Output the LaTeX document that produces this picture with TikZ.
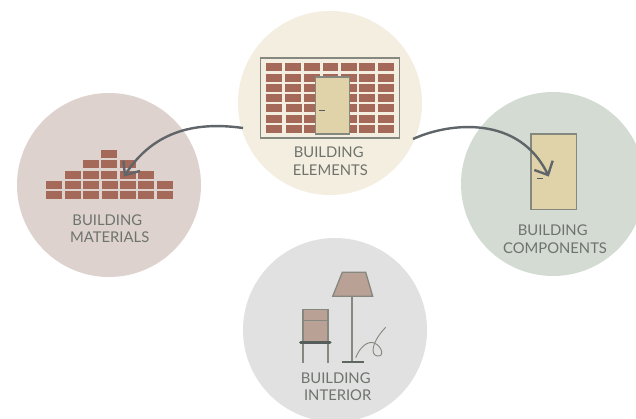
\documentclass[tikz,border=0pt]{standalone}
\usepackage{fontspec}
\setmainfont{Lato}
\usetikzlibrary{arrows.meta}
\definecolor{ctop}{HTML}{F3EEE0}
\definecolor{cleft}{HTML}{DDD2CE}
\definecolor{cright}{HTML}{D3DBD3}
\definecolor{cbot}{HTML}{E1E1E1}
\definecolor{brick}{HTML}{A5695A}
\definecolor{doorc}{HTML}{E0D3A9}
\definecolor{edgec}{HTML}{85887F}
\definecolor{txt}{HTML}{6F736D}
\definecolor{arrowc}{HTML}{5F6568}
\definecolor{shade}{HTML}{B9A195}
\definecolor{seatc}{HTML}{555E5A}
\tikzset{
  x=1pt,y=-1pt,
  disc/.style={circle,draw=none,minimum size=184pt,inner sep=0pt},
  lab/.style={text=txt,font=\fontsize{14.8}{15}\selectfont,inner sep=0pt,anchor=center},
  flow/.style={draw=arrowc,line width=2.4pt},
  flowhead/.style={draw=arrowc,line width=2.4pt,miter limit=10},
  doorbox/.style={fill=doorc,draw=edgec,line width=1.2pt},
  handle/.style={draw=seatc,line width=0.9pt},
  furn/.style={fill=shade,draw=edgec,line width=1.3pt},
  stem/.style={draw=edgec,line width=1.7pt}
}
\begin{document}
\begin{tikzpicture}
\useasboundingbox (0,0) rectangle (636,419);
\fill[white] (0,0) rectangle (636,419);
\node[disc,fill=ctop] (elements) at (330,103) {};
\node[disc,fill=cleft] (materials) at (109,185) {};
\node[disc,fill=cright] (components) at (553,184) {};
\node[disc,fill=cbot] (interior) at (335,330) {};
% wall
\draw[edgec,line width=1.2pt] (260.5,58) rectangle (399.5,138);
\foreach \ya/\yb in {63/71,73.7/82,84/92,94/102}
  \foreach \xa/\xb in {266.3/282.3,285.3/301.3,304.3/320,322.7/338.3,341.3/357.3,359.3/375.3,378.3/394.3}
    \fill[brick] (\xa,\ya) rectangle (\xb,\yb);
\foreach \ya/\yb in {104.3/112,115/123,125/133}
  \foreach \xa/\xb in {266.3/282.3,286.3/302.3,304.3/320,341.3/357.3,359.3/375.3,378.3/394.3}
    \fill[brick] (\xa,\ya) rectangle (\xb,\yb);
\draw[doorbox] (315.5,77) rectangle (349.5,134);
\draw[handle] (319.3,110.3) -- (324.7,110.3);
% heap of bricks
\foreach \ya/\yb/\list in {
  150/158/{101.3},
  160/168/{83.3,101.3,120.3},
  171/179/{65.3,83.3,101.3,120.3,138.3},
  181/189/{46.3,65.3,83.3,102.3,120.3,138.3,157.3},
  191/199/{46.3,65.3,83.3,102.3,120.3,138.3,157.3}}
  \foreach \xa in \list
    \fill[brick] (\xa,\ya) rectangle ++(16,\yb-\ya);
% component door
\draw[doorbox] (531,134) rectangle (576.7,209.7);
\draw[handle] (537,178.3) -- (543.3,178.3);
% lamp
\draw[furn] (342.3,272.3) -- (365.7,272.3) -- (372.7,296.3) -- (332.7,296.3) -- cycle;
\draw[stem] (352.3,296.3) -- (352.3,361.7);
\draw[seatc!80!edgec,line width=2pt] (341.7,361.7) -- (364,361.7);
\draw[edgec,line width=0.9pt] (355.7,357.7) .. controls (360,346.7) and (368.3,340) .. (375,343.3)
  .. controls (381.7,346.7) and (385,356.7) .. (377.3,356)
  .. controls (370,355) and (371.7,341.7) .. (385.7,327.3);
% chair
\draw[furn] (303,309.7) rectangle (328,342.3);
\draw[edgec,line width=1.3pt] (303,320.7) -- (328,320.7);
\draw[stem] (302.7,342.3) -- (302.7,363.3);
\draw[stem] (328.3,342.3) -- (328.3,363.3);
\draw[seatc,line width=3pt,line cap=round] (300.5,342.3) -- (330,342.3);
% labels
\node[lab] (l1a) at (328.7,152.7) {BUILDING};
\node[lab] (l1b) at (330.3,169.7) {ELEMENTS};
\node[lab] (l2a) at (107.3,220) {BUILDING};
\node[lab] (l2b) at (109.7,236.7) {MATERIALS};
\node[lab] (l3a) at (552.7,230.7) {BUILDING};
\node[lab] (l3b) at (555,247.7) {COMPONENTS};
\node[lab] (l4a) at (335.7,378) {BUILDING};
\node[lab] (l4b) at (337.7,394.7) {INTERIOR};
% connectors
\coordinate (lstart) at (243,128);
\coordinate (lend) at (125,175);
\coordinate (lbarbA) at (123.3,160.7);
\coordinate (lbarbB) at (140,171);
\coordinate (rstart) at (413,139);
\coordinate (rend) at (548,175);
\coordinate (rbarbA) at (552.7,160.7);
\coordinate (rbarbB) at (534.3,170);
\draw[flow] (lstart) .. controls (200,122) and (155,128) .. (lend);
\draw[flowhead] (lbarbA) -- (lend) -- (lbarbB);
\draw[flow] (rstart) .. controls (450,122) and (520,115) .. (rend);
\draw[flowhead] (rbarbA) -- (rend) -- (rbarbB);
\end{tikzpicture}
\end{document}
